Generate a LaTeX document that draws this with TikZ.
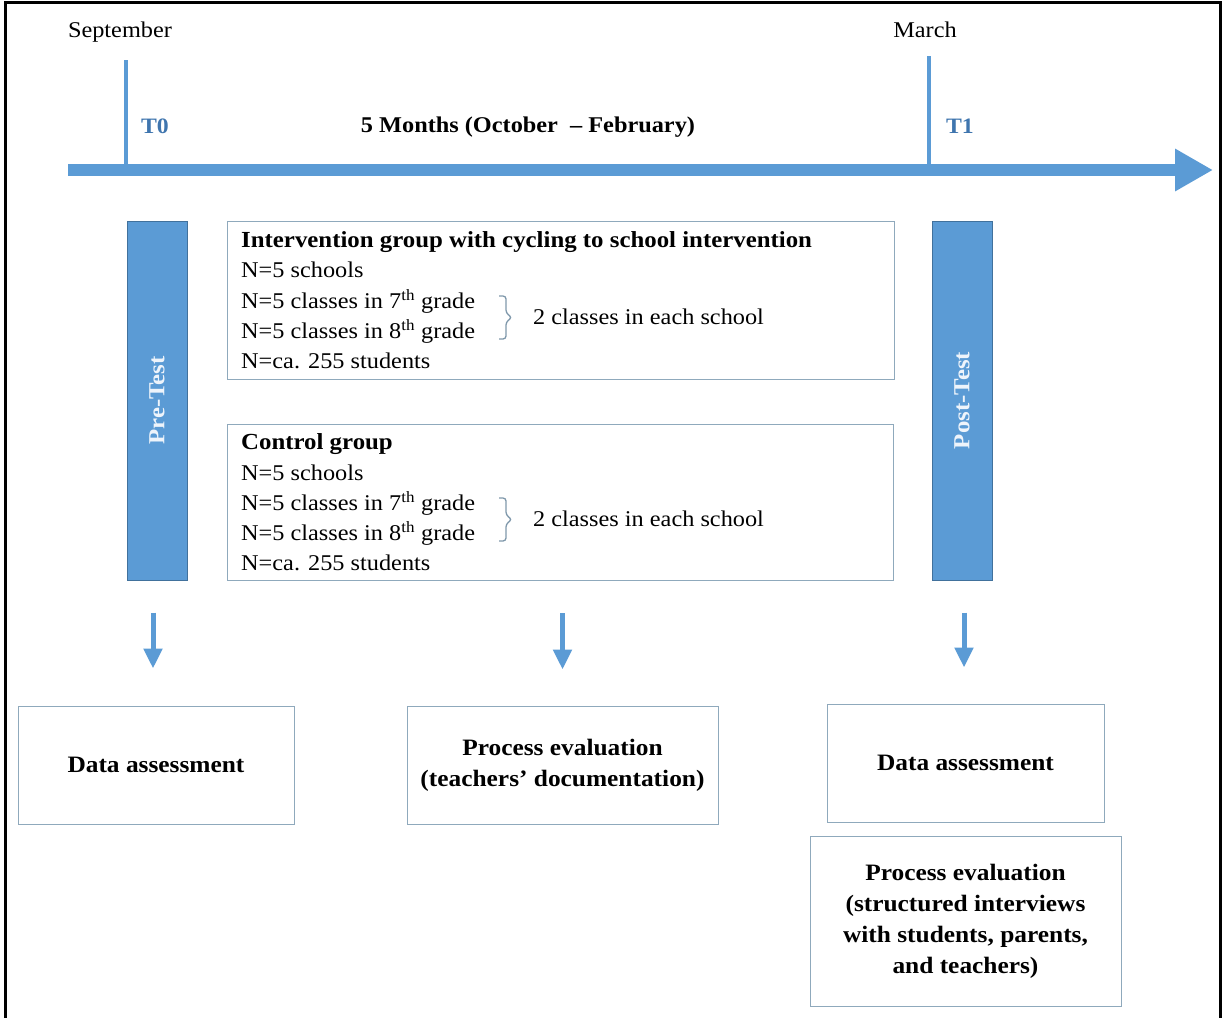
\documentclass[tikz,border=0pt]{standalone}
\usepackage{fontspec}
\setmainfont[FakeStretch=1.08]{Liberation Serif}
\usetikzlibrary{arrows.meta,calc}
\definecolor{tlblue}{HTML}{5B9BD5}
\definecolor{barborder}{HTML}{41719C}
\definecolor{boxborder}{HTML}{8FA9BC}
\definecolor{bracecol}{HTML}{7F98AB}
\definecolor{tlabel}{HTML}{3F75AE}
\definecolor{bartext}{HTML}{EEF4FB}
\begin{document}
\begin{tikzpicture}[x=1pt,y=-1pt,
  txt/.style={font=\fontsize{22.5}{30}\selectfont, inner sep=0pt, text height=17pt, text depth=2pt},
  linetxt/.style={txt, anchor=west},
  bartxt/.style={font=\fontsize{23}{26}\selectfont\bfseries, text=bartext},
  tbar/.style={draw=barborder, line width=1pt, fill=tlblue, inner sep=0pt, minimum width=60pt, minimum height=359pt},
  gbox/.style={draw=boxborder, line width=1pt, anchor=north west, inner sep=0pt},
  obox/.style={draw=boxborder, line width=1pt, inner sep=0pt, align=center, font=\fontsize{23.5}{31}\selectfont\bfseries},
  tick/.style={draw=tlblue, line width=4pt},
  downarr/.style={draw=tlblue, line width=5pt, -{Triangle[width=18pt,length=20pt]}},
  brc/.style={draw=bracecol, line width=1.3pt, rounded corners=3pt},
  tl/.style={font=\fontsize{22}{25}\selectfont\bfseries, text=tlabel, inner sep=0pt}
]
\useasboundingbox (0,0) rectangle (1223,1017);
% outer frame
\draw[line width=3pt] (5,1030) -- (5,2) -- (1220,2) -- (1220,1030);

% timeline
\coordinate (tlstart) at (68,170);
\coordinate (tlend) at (1213,170);
\draw[draw=tlblue, line width=12pt, -{Triangle[width=40pt,length=38pt]}] (tlstart) -- (tlend);
\coordinate (t0top) at (126,60);
\coordinate (t0bot) at (126,166);
\coordinate (t1top) at (929,56);
\coordinate (t1bot) at (929,166);
\draw[tick] (t0top) -- (t0bot);
\draw[tick] (t1top) -- (t1bot);

\node[txt] (sep) at (120,30) {September};
\node[txt] (mar) at (925,30) {March};
\node[tl] (T0) at (155,126) {T0};
\node[tl] (T1) at (960,126) {T1};
\node[txt, font=\fontsize{22.5}{30}\selectfont\bfseries] (months) at (528,125) {5 Months (October \ – February)};

% bars
\node[tbar] (pre) at (157,400.5) {};
\node[bartxt, rotate=90] (pretxt) at (pre.center) {Pre-Test};
\node[tbar] (post) at (962,400.5) {};
\node[bartxt, rotate=90] (posttxt) at (post.center) {Post-Test};

% intervention box
\node[gbox, minimum width=667pt, minimum height=158pt] (ibox) at (227,221) {};
\node[linetxt, font=\fontsize{23}{30}\selectfont\bfseries] (i1) at (241,240) {Intervention group with cycling to school intervention};
\node[linetxt] (i2) at (241,270) {N=5 schools};
\node[linetxt] (i3) at (241,301) {N=5 classes in 7\textsuperscript{th} grade};
\node[linetxt] (i4) at (241,331) {N=5 classes in 8\textsuperscript{th} grade};
\node[linetxt] (i5) at (241,361) {N=ca. 255 students};
\coordinate (ib1) at (499,296);
\coordinate (ib2) at (499,339);
\draw[brc] (ib1) -- (506,296) -- (506,313) -- (512,317.5) -- (506,322) -- (506,339) -- (ib2);
\node[linetxt] (i6) at (533,317) {2 classes in each school};

% control box
\node[gbox, minimum width=666pt, minimum height=156pt] (cbox) at (227,424) {};
\node[linetxt, font=\fontsize{23}{30}\selectfont\bfseries] (c1) at (241,442) {Control group};
\node[linetxt] (c2) at (241,473) {N=5 schools};
\node[linetxt] (c3) at (241,503) {N=5 classes in 7\textsuperscript{th} grade};
\node[linetxt] (c4) at (241,533) {N=5 classes in 8\textsuperscript{th} grade};
\node[linetxt] (c5) at (241,563) {N=ca. 255 students};
\coordinate (cb1) at (499,498);
\coordinate (cb2) at (499,541);
\draw[brc] (cb1) -- (506,498) -- (506,515) -- (512,519.5) -- (506,524) -- (506,541) -- (cb2);
\node[linetxt] (c6) at (533,519) {2 classes in each school};

% output boxes
\node[obox, minimum width=276pt, minimum height=118pt] (da1) at (156,765) {Data assessment};
\node[obox, minimum width=311pt, minimum height=118pt] (pe1) at (562.5,765) {Process evaluation\\(teachers’ documentation)};
\node[obox, minimum width=277pt, minimum height=118pt] (da2) at (965.5,763) {Data assessment};
\node[obox, minimum width=311pt, minimum height=170pt] (pe2) at (965.5,921) {Process evaluation\\(structured interviews\\with students, parents,\\and teachers)};

% arrows
\draw[downarr, shorten <=32pt, shorten >=37pt] ([xshift=-4pt]pre.south) -- ([xshift=-4pt]pre.south |- da1.north);
\draw[downarr, shorten <=32pt, shorten >=36pt] (cbox.south -| pe1.north) -- (pe1.north);
\draw[downarr, shorten <=32pt, shorten >=36pt] ([xshift=2pt]post.south) -- ([xshift=2pt]post.south |- da2.north);
\end{tikzpicture}
\end{document}
